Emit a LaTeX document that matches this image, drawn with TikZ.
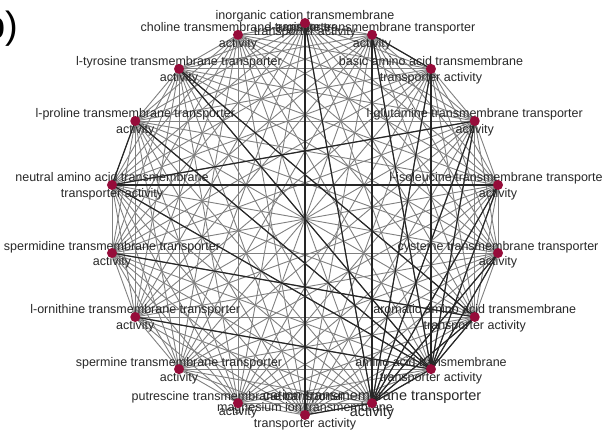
\documentclass[tikz,border=0pt]{standalone}
\usepackage{fontspec}
\setmainfont{Liberation Sans}
\definecolor{dotred}{RGB}{150,12,58}
\definecolor{labgray}{RGB}{40,40,40}
\pgfdeclarelayer{edges}
\pgfdeclarelayer{front}
\pgfsetlayers{edges,main,front}
\begin{document}
\begin{tikzpicture}[x=1pt,y=1pt,
  dot/.style={circle,fill=dotred,inner sep=0pt,minimum size=10pt},
  lab/.style={align=center,text=labgray,font=\fontsize{12.5}{15.5}\selectfont,inner sep=0pt,yshift=-1.5pt},
  biglab/.style={lab,font=\fontsize{14.5}{16.5}\selectfont},
  gedge/.style={draw=black!50,line width=0.9pt},
  dedge/.style={draw=black!85,line width=1.2pt}]
\useasboundingbox (0,0) rectangle (602,431);
\coordinate (c) at (305,212);
\begin{pgfonlayer}{front}
\foreach \k/\a in {1/90,2/70,3/50,4/30,5/10,6/-10,7/-30,8/-50,9/-70,10/-90,11/-110,12/-130,13/-150,14/-170,15/170,16/150,17/130,18/110}{
  \node[dot] (n\k) at ([shift={(\a:196)}]c) {};
}
\end{pgfonlayer}
\begin{pgfonlayer}{edges}
\foreach \i in {1,...,17}{
  \pgfmathtruncatemacro{\jj}{\i+1}
  \foreach \j in {\jj,...,18}{ \draw[gedge] (n\i.center) -- (n\j.center); }
}
\foreach \j in {1,...,8,10,...,18}{ \draw[dedge] (n9.center) -- (n\j.center); }
\foreach \j in {2,3,4,5,6,7,13,15,16,17}{ \draw[dedge] (n8.center) -- (n\j.center); }
\draw[dedge] (n2.center) -- (n3.center);
\draw[dedge] (n17.center) -- (n7.center);
\draw[dedge] (n15.center) -- (n4.center);
\draw[dedge] (n15.center) -- (n5.center);
\draw[dedge] (n15.center) -- (n16.center);
\draw[dedge] (n1.center) -- (n10.center);
\draw[dedge] (n14.center) -- (n7.center);
\end{pgfonlayer}
\node[lab] (l1) at (n1) {inorganic cation transmembrane\\transporter activity};
\node[lab] (l2) at (n2) {l-arginine transmembrane transporter\\activity};
\node[lab] (l3) at (n3) {basic amino acid transmembrane\\transporter activity};
\node[lab] (l4) at (n4) {l-glutamine transmembrane transporter\\activity};
\node[lab] (l5) at (n5) {l-isoleucine transmembrane transporter\\activity};
\node[lab] (l6) at (n6) {cysteine transmembrane transporter\\activity};
\node[lab] (l7) at (n7) {aromatic amino acid transmembrane\\transporter activity};
\node[lab] (l8) at (n8) {amino acid transmembrane\\transporter activity};
\node[biglab] (l9) at (n9) {cation transmembrane transporter\\activity};
\node[lab] (l10) at (n10) {magnesium ion transmembrane\\transporter activity};
\node[lab] (l11) at (n11) {putrescine transmembrane transporter\\activity};
\node[lab] (l12) at (n12) {spermine transmembrane transporter\\activity};
\node[lab] (l13) at (n13) {l-ornithine transmembrane transporter\\activity};
\node[lab] (l14) at (n14) {spermidine transmembrane transporter\\activity};
\node[lab] (l15) at (n15) {neutral amino acid transmembrane\\transporter activity};
\node[lab] (l16) at (n16) {l-proline transmembrane transporter\\activity};
\node[lab] (l17) at (n17) {l-tyrosine transmembrane transporter\\activity};
\node[lab] (l18) at (n18) {choline transmembrane transporter\\activity};
\node[anchor=east,font=\fontsize{38}{38}\selectfont,inner sep=0pt] (panel) at (18,402) {b)};
\end{tikzpicture}
\end{document}
